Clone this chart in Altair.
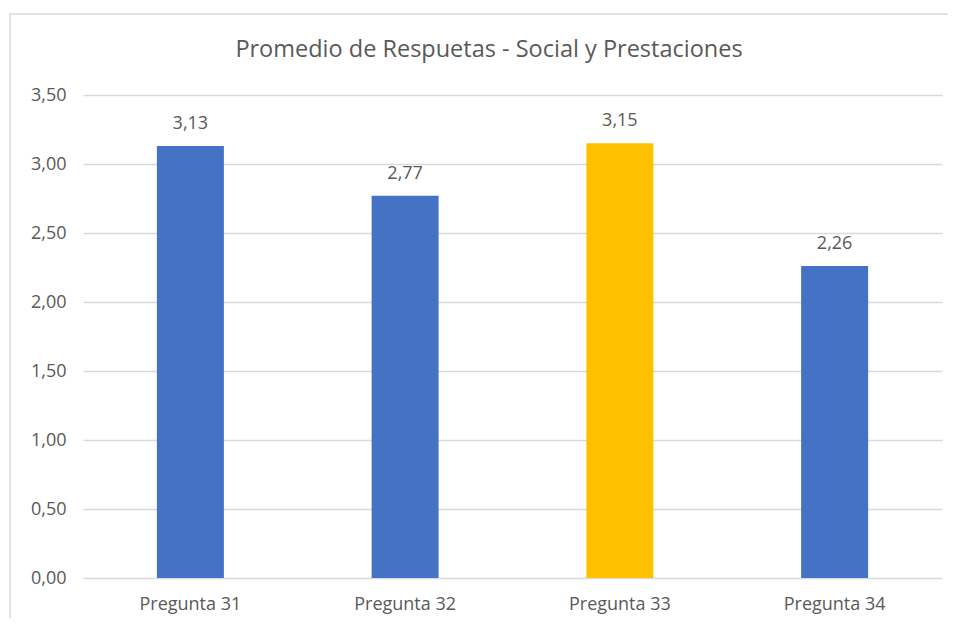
import altair as alt
import pandas as pd

categories = ["Pregunta 31", "Pregunta 32", "Pregunta 33", "Pregunta 34"]
values = [3.13, 2.77, 3.15, 2.26]
colors = ["#4472C4", "#4472C4", "#FFC000", "#4472C4"]
title_text = "Promedio de Respuetas - Social y Prestaciones"

df = pd.DataFrame({
    "cat": categories,
    "val": values,
    "color": colors,
    "label": [f"{v:.2f}".replace(".", ",") for v in values],
})

FONT = "Open Sans"
TXT = "#595959"
FS = 18

base = alt.Chart(df)

x = alt.X("cat:N", sort=categories, title=None,
          scale=alt.Scale(paddingInner=0.688, paddingOuter=0.344),
          axis=alt.Axis(labelAngle=0, labelFont=FONT, labelFontSize=FS, labelColor=TXT,
                        labelPadding=17, ticks=False, domain=False, grid=False))
y = alt.Y("val:Q", title=None,
          scale=alt.Scale(domain=[0, 3.5], nice=False),
          axis=alt.Axis(values=[0, 0.5, 1, 1.5, 2, 2.5, 3, 3.5],
                        labelExpr="replace(format(datum.value, '.2f'), '.', ',')",
                        labelFont=FONT, labelFontSize=FS, labelColor=TXT,
                        labelPadding=17, ticks=False, domain=False,
                        grid=True, gridColor="#D9D9D9", gridWidth=1.3))

bars = base.mark_bar().encode(x=x, y=y, color=alt.Color("color:N", scale=None))
labels = base.mark_text(baseline="bottom", dy=-13, font=FONT, fontSize=FS, color=TXT).encode(
    x=alt.X("cat:N", sort=categories), y="val:Q", text="label:N")

one = pd.DataFrame({"t": [title_text]})
border = alt.Chart(one).mark_rect(
    fill=None, stroke="#D9D9D9", strokeWidth=1.5).encode(
    x=alt.value(-73), x2=alt.value(1000), y=alt.value(-81), y2=alt.value(700))
title = alt.Chart(one).mark_text(
    font=FONT, fontSize=23.5, color=TXT, align="center", baseline="middle").encode(
    x=alt.value(406), y=alt.value(-45), text="t:N")

chart = alt.layer(border, bars, labels, title).properties(
    width=859, height=483,
    autosize=alt.AutoSizeParams(type="none"),
    padding={"left": 75, "top": 87, "right": 6, "bottom": 40},
).configure_view(stroke=None)

chart.save("out.html", embed_options={"renderer": "svg", "actions": False})
